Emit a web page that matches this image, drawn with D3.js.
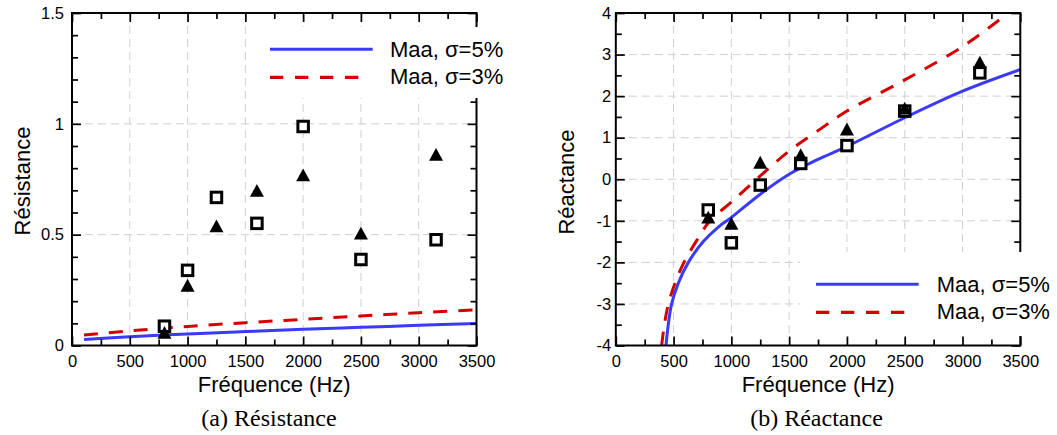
<!DOCTYPE html>
<html><head><meta charset="utf-8">
<script src="https://cdn.jsdelivr.net/npm/d3@7"></script>
<style>
body{margin:0;background:#fff;}
svg{display:block;}
</style>
</head><body>
<svg id="chart" width="1057" height="435"></svg>
<script>
// ---------- data ----------
const freqs = [800, 1000, 1250, 1600, 2000, 2500, 3150];
const resSquares   = [0.087, 0.339, 0.668, 0.551, 0.988, 0.388, 0.477];
const resTriangles = [0.057, 0.270, 0.538, 0.698, 0.768, 0.505, 0.860];
const reaSquares   = [-0.74, -1.53, -0.14, 0.38, 0.81, 1.64, 2.56];
const reaTriangles = [-0.92, -1.07, 0.40, 0.58, 1.20, 1.70, 2.81];

const resCurveFreq = [104, 500, 1000, 1500, 2000, 2500, 3000, 3500];
const resMaa5 = [0.027, 0.040, 0.052, 0.063, 0.073, 0.082, 0.091, 0.099];
const resMaa3 = [0.047, 0.066, 0.086, 0.103, 0.118, 0.133, 0.148, 0.161];

const reaMaa5Freq = [434, 454, 483, 541, 628, 757, 887, 1000, 1250, 1500, 1750, 2000, 2500, 3000, 3500];
const reaMaa5     = [-4.0, -3.5, -3.0, -2.5, -2.0, -1.5, -1.15, -0.92, -0.36, 0.12, 0.48, 0.79, 1.48, 2.12, 2.64];
const reaMaa3Freq = [397, 420, 455, 512, 590, 694, 815, 1000, 1250, 1500, 1750, 2000, 2500, 3000, 3396];
const reaMaa3     = [-4.0, -3.5, -3.0, -2.5, -2.0, -1.5, -1.0, -0.55, 0.08, 0.68, 1.17, 1.64, 2.39, 3.19, 4.0];

const xTicks = [0, 500, 1000, 1500, 2000, 2500, 3000, 3500];
const xTickLabels = ["0", "500", "1000", "1500", "2000", "2500", "3000", "3500"];
const xMinorTicks = [250, 750, 1250, 1750, 2250, 2750, 3250];
const resYTicks = [0, 0.5, 1, 1.5];
const resYTickLabels = ["0", "0.5", "1", "1.5"];
const resYMinorTicks = [0.1, 0.2, 0.3, 0.4, 0.6, 0.7, 0.8, 0.9, 1.1, 1.2, 1.3, 1.4];
const reaYTicks = [-4, -3, -2, -1, 0, 1, 2, 3, 4];
const reaYTickLabels = ["-4", "-3", "-2", "-1", "0", "1", "2", "3", "4"];
const reaYMinorTicks = [-3.5, -2.5, -1.5, -0.5, 0.5, 1.5, 2.5, 3.5];

const legendLabels = ["Maa, \u03c3=5%", "Maa, \u03c3=3%"];
const xTitle = "Fréquence (Hz)";
const captions = ["(a) Résistance", "(b) Réactance"];
const yTitles = ["Résistance", "Réactance"];

// ---------- drawing ----------
const BLUE = "#3a3af8", RED = "#d40000", GRID = "#d0d0d0";
const SANS = "'Liberation Sans', Arial, sans-serif";
const svg = d3.select("#chart");

function drawPanel(p, idx) {
  const g = svg.append("g");
  const x = d3.scaleLinear().domain([0, 3500]).range([p.left, p.right]);
  const y = d3.scaleLinear().domain(p.yDomain).range([p.bottom, p.top]);

  // grid
  g.append("g").selectAll("line").data(xTicks.filter(v => v > 0 && v < 3500)).join("line")
    .attr("x1", d => x(d)).attr("x2", d => x(d)).attr("y1", p.top).attr("y2", p.bottom)
    .attr("stroke", GRID).attr("stroke-width", 1).attr("stroke-dasharray", "8,5");
  g.append("g").selectAll("line").data(p.yTicks.filter(v => v > p.yDomain[0] && v < p.yDomain[1])).join("line")
    .attr("y1", d => y(d)).attr("y2", d => y(d)).attr("x1", p.left).attr("x2", p.right)
    .attr("stroke", GRID).attr("stroke-width", 1).attr("stroke-dasharray", "8,5");

  // clip
  const cid = "clip" + idx;
  g.append("clipPath").attr("id", cid).append("rect")
    .attr("x", p.left).attr("y", p.top).attr("width", p.right - p.left).attr("height", p.bottom - p.top);

  const line = d3.line().x(d => x(d[0])).y(d => y(d[1])).curve(d3.curveCatmullRom.alpha(0.5));
  const curves = g.append("g").attr("clip-path", `url(#${cid})`);
  curves.append("path").datum(d3.zip(p.c5f, p.c5)).attr("d", line)
    .attr("fill", "none").attr("stroke", BLUE).attr("stroke-width", 3);
  curves.append("path").datum(d3.zip(p.c3f, p.c3)).attr("d", line)
    .attr("fill", "none").attr("stroke", RED).attr("stroke-width", 3).attr("stroke-dasharray", "14,11");

  // markers
  const sq = 10.5;
  g.append("g").selectAll("rect").data(d3.zip(freqs, p.squares)).join("rect")
    .attr("x", d => x(d[0]) - sq / 2).attr("y", d => y(d[1]) - sq / 2)
    .attr("width", sq).attr("height", sq)
    .attr("fill", "#fff").attr("stroke", "#000").attr("stroke-width", 3);
  g.append("g").selectAll("path").data(d3.zip(freqs, p.triangles)).join("path")
    .attr("transform", d => `translate(${x(d[0])},${y(d[1])})`)
    .attr("d", "M0,-6.8L7,6L-7,6Z").attr("fill", "#000");

  // axes
  function style(sel) {
    sel.select(".domain").remove();
    sel.selectAll(".tick line").attr("stroke", "#000").attr("stroke-width", 1.7);
    sel.selectAll("text").attr("font-family", SANS).attr("font-size", 16.5).attr("fill", "#000");
  }
  g.append("g").attr("transform", `translate(0,${p.bottom})`)
    .call(d3.axisBottom(x).tickValues(xTicks).tickFormat((d, i) => xTickLabels[i]).tickSize(-9).tickSizeOuter(0).tickPadding(9.8)).call(style);
  g.append("g").attr("transform", `translate(0,${p.bottom})`)
    .call(d3.axisBottom(x).tickValues(xMinorTicks).tickFormat("").tickSize(-6).tickSizeOuter(0)).call(style);
  g.append("g").attr("transform", `translate(0,${p.top})`)
    .call(d3.axisTop(x).tickValues(xTicks).tickFormat("").tickSize(-9).tickSizeOuter(0)).call(style);
  g.append("g").attr("transform", `translate(0,${p.top})`)
    .call(d3.axisTop(x).tickValues(xMinorTicks).tickFormat("").tickSize(-6).tickSizeOuter(0)).call(style);
  g.append("g").attr("transform", `translate(${p.left},0)`)
    .call(d3.axisLeft(y).tickValues(p.yTicks).tickFormat((d, i) => p.yTickLabels[i]).tickSize(-9).tickSizeOuter(0).tickPadding(p.yPad)).call(style);
  g.append("g").attr("transform", `translate(${p.left},0)`)
    .call(d3.axisLeft(y).tickValues(p.yMinor).tickFormat("").tickSize(-6).tickSizeOuter(0)).call(style);
  g.append("g").attr("transform", `translate(${p.right},0)`)
    .call(d3.axisRight(y).tickValues(p.yTicks).tickFormat("").tickSize(-9).tickSizeOuter(0)).call(style);
  g.append("g").attr("transform", `translate(${p.right},0)`)
    .call(d3.axisRight(y).tickValues(p.yMinor).tickFormat("").tickSize(-6).tickSizeOuter(0)).call(style);

  // frame
  g.append("rect").attr("x", p.left).attr("y", p.top).attr("width", p.right - p.left).attr("height", p.bottom - p.top)
    .attr("fill", "none").attr("stroke", "#000").attr("stroke-width", 2);

  // legend
  const L = p.legend;
  g.append("rect").attr("x", L.bx).attr("y", L.by).attr("width", L.bw).attr("height", L.bh).attr("fill", "#fff");
  g.append("line").attr("x1", L.lx).attr("x2", L.lx + 102.7).attr("y1", L.ly).attr("y2", L.ly)
    .attr("stroke", BLUE).attr("stroke-width", 3);
  g.append("line").attr("x1", L.lx).attr("x2", L.lx + 90).attr("y1", L.ly + 28).attr("y2", L.ly + 28)
    .attr("stroke", RED).attr("stroke-width", 3.2).attr("stroke-dasharray", "13.3,11.7");
  legendLabels.forEach((t, i) => {
    g.append("text").attr("x", L.tx).attr("y", L.ly + 7.5 + i * 27.5).text(t)
      .attr("font-family", SANS).attr("font-size", 22).attr("fill", "#000");
  });

  // titles
  g.append("text").attr("x", (p.left + p.right) / 2).attr("y", 392).attr("text-anchor", "middle")
    .attr("font-family", SANS).attr("font-size", 22).text(xTitle);
  g.append("text").attr("transform", `translate(${p.ytx},${p.yty}) rotate(-90)`).attr("text-anchor", "middle")
    .attr("font-family", SANS).attr("font-size", 22).text(yTitles[idx]);
  g.append("text").attr("x", p.capx).attr("y", 426).attr("text-anchor", "middle")
    .attr("font-family", "'Liberation Serif', 'Times New Roman', serif").attr("font-size", 24).text(captions[idx]);
}

drawPanel({
  left: 72, right: 476.5, top: 13, bottom: 345.5, yDomain: [0, 1.5],
  yTicks: resYTicks, yTickLabels: resYTickLabels, yMinor: resYMinorTicks, yPad: 8,
  squares: resSquares, triangles: resTriangles,
  c5f: resCurveFreq, c5: resMaa5, c3f: resCurveFreq, c3: resMaa3,
  legend: {bx: 262, by: 27, bw: 250, bh: 71, lx: 270, ly: 49.3, tx: 390},
  ytx: 30, yty: 181, capx: 269
}, 0);

drawPanel({
  left: 615.8, right: 1020.3, top: 13, bottom: 345.5, yDomain: [-4, 4],
  yTicks: reaYTicks, yTickLabels: reaYTickLabels, yMinor: reaYMinorTicks, yPad: 4.7,
  squares: reaSquares, triangles: reaTriangles,
  c5f: reaMaa5Freq, c5: reaMaa5, c3f: reaMaa3Freq, c3: reaMaa3,
  legend: {bx: 800, by: 252, bw: 257, bh: 84, lx: 816, ly: 284.3, tx: 936.7},
  ytx: 574, yty: 182, capx: 816.5
}, 1);
</script>
</body></html>
